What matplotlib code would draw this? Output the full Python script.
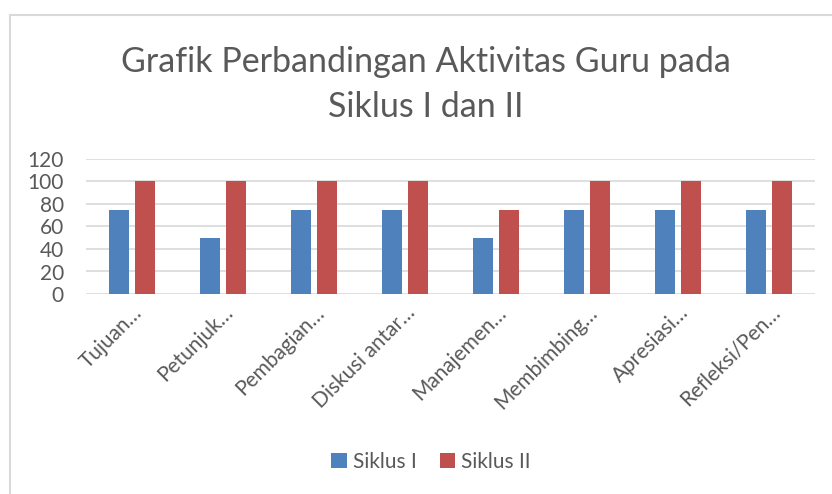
import matplotlib
matplotlib.use('Agg')
import matplotlib.pyplot as plt
from matplotlib.lines import Line2D
import numpy as np

plt.rcParams['font.family'] = ['Lato', 'DejaVu Sans']

categories = ['Tujuan…', 'Petunjuk…', 'Pembagian…', 'Diskusi antar…',
              'Manajemen…', 'Membimbing…', 'Apresiasi…', 'Refleksi/Pen…']
siklus_1 = [75, 50, 75, 75, 50, 75, 75, 75]
siklus_2 = [100, 100, 100, 100, 75, 100, 100, 100]
yticks = [0, 20, 40, 60, 80, 100, 120]

text_col = '#595959'
grid_col = '#D9D9D9'
blue = '#4F81BD'
red = '#C0504D'

fig = plt.figure(figsize=(8.32, 4.94), dpi=100)
ax = fig.add_axes([86 / 832, 1 - 294 / 494, (815 - 86) / 832, (294 - 159) / 494])

x = np.arange(len(categories))
w = 0.22
gap = 0.066
ax.bar(x - (w + gap) / 2, siklus_1, w, color=blue, label='Siklus I', zorder=3)
ax.bar(x + (w + gap) / 2, siklus_2, w, color=red, label='Siklus II', zorder=3)

ax.set_xlim(-0.5, len(categories) - 0.5)
ax.set_ylim(0, 120)
ax.set_yticks(yticks)
ax.set_yticklabels([str(v) for v in yticks], fontsize=15, color=text_col)
ax.set_xticks(x)
ax.set_xticklabels(categories, rotation=45, ha='right', rotation_mode='anchor',
                   fontsize=15, color=text_col)
ax.tick_params(axis='x', length=0, pad=6)
ax.tick_params(axis='y', length=0, pad=16)
ax.grid(axis='y', color=grid_col, linewidth=1.2, zorder=0)
for s in ax.spines.values():
    s.set_visible(False)

fig.text(0.512, 1 - 62 / 494, 'Grafik Perbandingan Aktivitas Guru pada', ha='center',
         va='center', fontsize=24.5, color=text_col)
fig.text(0.512, 1 - 107 / 494, 'Siklus I dan II', ha='center', va='center',
         fontsize=24.5, color=text_col)

fig.legend(loc='center', bbox_to_anchor=(0.518, 1 - 462 / 494), ncol=2, frameon=False,
           fontsize=15, labelcolor=text_col, handlelength=0.75, handleheight=0.75,
           handletextpad=0.3, columnspacing=1.1)

# chart area border
fig.add_artist(Line2D([10 / 832, 10 / 832], [0, 1 - 15 / 494], color=grid_col,
                      linewidth=1.5, transform=fig.transFigure))
fig.add_artist(Line2D([10 / 832, 1], [1 - 15 / 494, 1 - 15 / 494], color=grid_col,
                      linewidth=1.5, transform=fig.transFigure))

fig.savefig('out.png', dpi=100)
